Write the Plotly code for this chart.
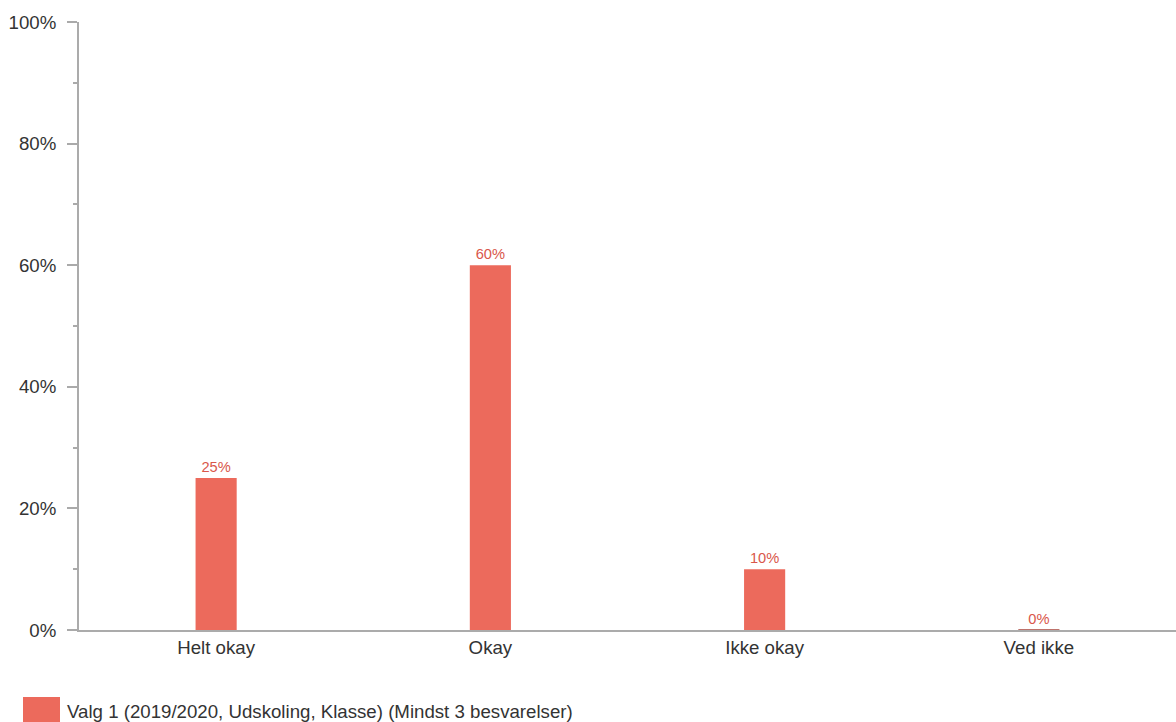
import plotly.graph_objects as go

categories = ["Helt okay", "Okay", "Ikke okay", "Ved ikke"]
values = [25, 60, 10, 0]
labels = ["25%", "60%", "10%", "0%"]
series_name = "Valg 1 (2019/2020, Udskoling, Klasse) (Mindst 3 besvarelser)"
y_ticks = [0, 20, 40, 60, 80, 100]
y_ticklabels = ["0%", "20%", "40%", "60%", "80%", "100%"]

bar_color = "#EC6A5C"
label_color = "#D9574B"
axis_color = "rgba(0,0,0,0.33)"
font_family = "Liberation Sans, Arial, sans-serif"
text_color = "#333333"
fs = 18.67

fig = go.Figure()
fig.add_trace(go.Bar(
    x=categories, y=values, name=series_name,
    marker=dict(color=bar_color,
                line=dict(width=[0 if v > 0 else 1.5 for v in values], color="#A9463C")),
    text=labels, textposition="outside", cliponaxis=False,
    textfont=dict(color=label_color, size=14.67, family=font_family),
    showlegend=False,
))

fig.update_layout(
    width=1176, height=722,
    margin=dict(l=79, r=0, t=22, b=92),
    plot_bgcolor="white", paper_bgcolor="white",
    bargap=0.85,
    font=dict(family=font_family, size=fs, color=text_color),
    xaxis=dict(
        showgrid=False, showline=True, linecolor=axis_color, linewidth=2,
        ticks="", layer="above traces", tickfont=dict(size=fs, color=text_color),
        zeroline=False,
    ),
    yaxis=dict(
        range=[0, 100], tickvals=y_ticks, ticktext=y_ticklabels,
        showgrid=False, showline=True, linecolor=axis_color, linewidth=2,
        ticks="outside", ticklen=10, tickwidth=2, tickcolor="#aaaaaa",
        minor=dict(ticks="outside", ticklen=4, dtick=10, tickwidth=2, tickcolor="#aaaaaa"),
        layer="above traces", zeroline=False, ticklabelstandoff=7,
        tickfont=dict(size=fs, color=text_color),
    ),
)

# legend drawn at the bottom
fig.add_shape(type="rect", xref="paper", yref="paper",
              x0=-56 / 1097, x1=-19 / 1097, y0=-92 / 608, y1=-67 / 608,
              fillcolor=bar_color, line=dict(width=0))
fig.add_annotation(xref="paper", yref="paper", x=-14 / 1097, y=-81 / 608,
                   text=series_name, showarrow=False, xanchor="left", yanchor="middle",
                   font=dict(size=fs, color=text_color, family=font_family))

fig.write_html("out.html", config={"displayModeBar": False},
               post_script="document.body.style.margin='0';document.body.style.overflow='hidden';")
